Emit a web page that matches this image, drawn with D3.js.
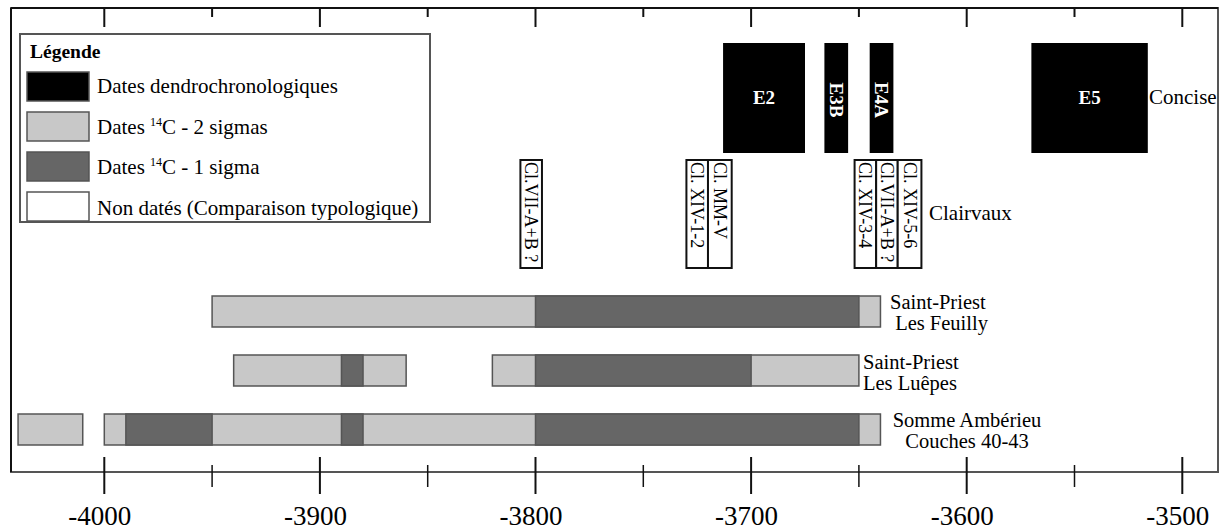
<!DOCTYPE html>
<html>
<head>
<meta charset="utf-8">
<script src="https://cdn.jsdelivr.net/npm/d3@7"></script>
<style>
  body { margin: 0; background: #fff; }
  svg { display: block; font-family: "Liberation Serif", "Times New Roman", serif; }
</style>
</head>
<body>
<div id="chart"></div>
<script>
// dendro phases at Concise
const dendroPhases = ["E2", "E3B", "E4A", "E5"]
const dendroStart = [-3713, -3666, -3645, -3570]
const dendroEnd = [-3675, -3655, -3634, -3516]

// typological (non dated) ensembles at Clairvaux
const typoLabels = ["Cl.VII-A+B ?", "Cl. XIV-1-2", "Cl. MM-V", "Cl. XIV-3-4", "Cl.VII-A+B ?", "Cl. XIV-5-6"]
const typoStart = [-3807, -3730, -3720, -3652, -3642, -3632]
const typoEnd = [-3797, -3720, -3709, -3642, -3632, -3621]

// 14C sites, ranges are [site index, from, to]
const c14Sites = ["Les Feuilly", "Les Luêpes", "Couches 40-43"]
const sigma2Ranges = [[0, -3950, -3640], [1, -3940, -3860], [1, -3820, -3650], [2, -4040, -4010], [2, -4000, -3640]]
const sigma1Ranges = [[0, -3800, -3650], [1, -3890, -3880], [1, -3800, -3700], [2, -3990, -3950], [2, -3890, -3880], [2, -3800, -3650]]

const yearTicks = [-4000, -3950, -3900, -3850, -3800, -3750, -3700, -3650, -3600, -3550, -3500]

const width = 1223
const height = 531
const frame = {left: 11, top: 8, right: 1218, bottom: 472}

const light = "#c8c8c8"
const dark = "#666666"

const svg = d3.select("#chart").append("svg")
  .attr("width", width)
  .attr("height", height)

const x = d3.scaleLinear()
  .domain([-4000, -3500])
  .range([104.3, 1182.3])

const y = d3.scalePoint()
  .domain(c14Sites)
  .range([311.5, 429.5])
const barH = 31

// frame
svg.append("rect")
  .attr("x", frame.left).attr("y", frame.top)
  .attr("width", frame.right - frame.left)
  .attr("height", frame.bottom - frame.top)
  .attr("fill", "none").attr("stroke", "#555").attr("stroke-width", 2)
svg.append("line")
  .attr("x1", frame.left).attr("x2", frame.right)
  .attr("y1", frame.top).attr("y2", frame.top)
  .attr("stroke", "#111").attr("stroke-width", 2)
svg.append("line")
  .attr("x1", frame.left).attr("x2", frame.left)
  .attr("y1", frame.top).attr("y2", frame.bottom)
  .attr("stroke", "#111").attr("stroke-width", 2)

// ticks top (inside) and bottom (crossing the line)
const isMajor = d => d % 100 === 0
svg.selectAll(".topTick").data(yearTicks).enter().append("line")
  .attr("x1", d => x(d)).attr("x2", d => x(d))
  .attr("y1", frame.top)
  .attr("y2", d => isMajor(d) ? frame.top + 19 : frame.top + 9)
  .attr("stroke", "#111").attr("stroke-width", 2)

svg.selectAll(".botTick").data(yearTicks).enter().append("line")
  .attr("x1", d => x(d)).attr("x2", d => x(d))
  .attr("y1", d => isMajor(d) ? frame.bottom - 15 : frame.bottom - 7)
  .attr("y2", d => isMajor(d) ? frame.bottom + 22 : frame.bottom + 15)
  .attr("stroke", "#111").attr("stroke-width", d => isMajor(d) ? 2 : 1.5)

// labels: digits centred on the tick, minus sign hangs left
svg.selectAll(".yearLabel").data(yearTicks.filter(isMajor)).enter().append("text")
  .attr("x", d => x(d) + 27)
  .attr("y", 525)
  .attr("text-anchor", "end")
  .attr("font-size", 27)
  .text(d => d)

// Concise dendro blocks
const dendro = dendroPhases.map((p, i) => ({p: p, a: dendroStart[i], b: dendroEnd[i]}))
svg.selectAll(".dendro").data(dendro).enter().append("rect")
  .attr("x", d => x(d.a))
  .attr("width", d => x(d.b) - x(d.a))
  .attr("y", 43).attr("height", 110)
  .attr("fill", "#000")

svg.selectAll(".dendroLabel").data(dendro).enter().append("text")
  .attr("transform", d => {
    const cx = (x(d.a) + x(d.b)) / 2
    // narrow phases get a vertical label
    return (x(d.b) - x(d.a) < 40) ? `translate(${cx},100) rotate(90)` : `translate(${cx},97)`
  })
  .attr("text-anchor", "middle")
  .attr("dominant-baseline", "central")
  .attr("font-size", 19).attr("font-weight", "bold")
  .attr("fill", "#fff")
  .text(d => d.p)

svg.append("text").attr("x", 1149).attr("y", 104).attr("font-size", 21).text("Concise")

// Clairvaux typological boxes
const typo = typoLabels.map((t, i) => ({t: t, a: typoStart[i], b: typoEnd[i]}))
svg.selectAll(".typo").data(typo).enter().append("rect")
  .attr("x", d => x(d.a))
  .attr("width", d => x(d.b) - x(d.a))
  .attr("y", 160).attr("height", 108)
  .attr("fill", "#fff").attr("stroke", "#111").attr("stroke-width", 2)

svg.selectAll(".typoLabel").data(typo).enter().append("text")
  .attr("transform", d => `translate(${(x(d.a) + x(d.b)) / 2},162) rotate(90)`)
  .attr("dominant-baseline", "central")
  .attr("font-size", 18)
  .text(d => d.t)

svg.append("text").attr("x", 929).attr("y", 220).attr("font-size", 21).text("Clairvaux")

// 14C bars, 2 sigma first then 1 sigma on top
const bars = svg.append("g")
bars.selectAll(".s2").data(sigma2Ranges).enter().append("rect")
  .attr("x", d => x(d[1]))
  .attr("width", d => x(d[2]) - x(d[1]))
  .attr("y", d => y(c14Sites[d[0]]) - barH / 2)
  .attr("height", barH)
  .attr("fill", light).attr("stroke", "#555").attr("stroke-width", 1.5)

bars.selectAll(".s1").data(sigma1Ranges).enter().append("rect")
  .attr("x", d => x(d[1]))
  .attr("width", d => x(d[2]) - x(d[1]))
  .attr("y", d => y(c14Sites[d[0]]) - barH / 2)
  .attr("height", barH)
  .attr("fill", dark).attr("stroke", "#555").attr("stroke-width", 1.5)

// site names
const siteText = (x0, y0, lines, anchor) => {
  const t = svg.append("text").attr("font-size", 20.5).attr("text-anchor", anchor)
  lines.forEach((l, i) => {
    t.append("tspan").attr("x", x0).attr("y", y0 + i * 20.5).text(l)
  })
}
siteText(890, 309, ["Saint-Priest", " Les Feuilly"], "start")
siteText(863, 369, ["Saint-Priest", "Les Luêpes"], "start")
siteText(967, 427, ["Somme Ambérieu", "Couches 40-43"], "middle")

// legend
const legend = svg.append("g")
legend.append("rect")
  .attr("x", 20).attr("y", 34).attr("width", 410).attr("height", 188)
  .attr("fill", "#fff").attr("stroke", "#555").attr("stroke-width", 2)
legend.append("text")
  .attr("x", 30).attr("y", 58)
  .attr("font-size", 19.5).attr("font-weight", "bold")
  .text("Légende")

const legendFills = ["#000", light, dark, "#fff"]
legend.selectAll(".sw").data(legendFills).enter().append("rect")
  .attr("x", 27).attr("y", (d, i) => 72 + i * 40)
  .attr("width", 62).attr("height", 29)
  .attr("fill", d => d).attr("stroke", "#555").attr("stroke-width", 1.5)

const legendText = [["Dates dendrochronologiques"], ["Dates ", "14", "C - 2 sigmas"], ["Dates ", "14", "C - 1 sigma"], ["Non datés (Comparaison typologique)"]]
legendText.forEach((parts, i) => {
  const t = legend.append("text").attr("x", 97).attr("y", 93 + i * 40.5).attr("font-size", 21)
  parts.forEach((p, j) => {
    if (j === 1) {
      t.append("tspan").attr("font-size", 12).attr("dy", -8).text(p)
    } else if (j === 2) {
      t.append("tspan").attr("dy", 8).text(p)
    } else {
      t.append("tspan").text(p)
    }
  })
})
</script>
</body>
</html>
